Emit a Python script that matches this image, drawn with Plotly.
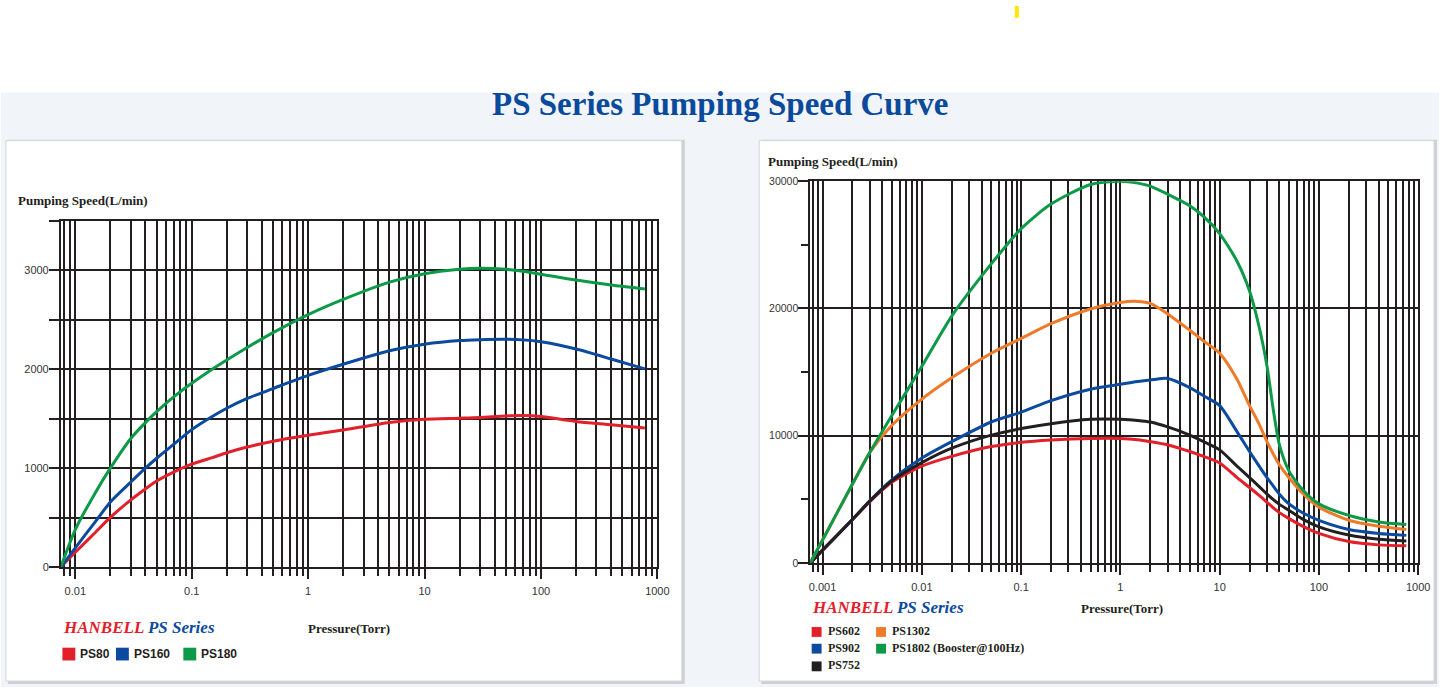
import plotly.graph_objects as go

W, H = 1451, 693

# ---- left chart data (PS80 / PS160 / PS180) ----
p_left = [0.0075, 0.01, 0.015, 0.02, 0.03, 0.04, 0.05, 0.07, 0.1, 0.15, 0.2, 0.3, 0.5,
          1, 2, 5, 10, 20, 30, 50, 70, 100, 200, 400, 780]
ps80 = [0, 150, 355, 502, 680, 790, 870, 960, 1040, 1106, 1156, 1213, 1272,
        1332, 1385, 1462, 1495, 1505, 1512, 1528, 1533, 1522, 1472, 1439, 1405]
ps160 = [0, 195, 465, 658, 860, 1000, 1100, 1240, 1389, 1522, 1605, 1704, 1804,
         1937, 2050, 2186, 2252, 2289, 2298, 2302, 2296, 2276, 2203, 2103, 2003]
ps180 = [0, 380, 760, 1000, 1300, 1460, 1570, 1720, 1858, 2000, 2093, 2219, 2369,
         2551, 2705, 2880, 2965, 3010, 3020, 3010, 2990, 2960, 2900, 2850, 2810]

# ---- right chart data (PS602 / PS902 / PS752 / PS1302 / PS1802) ----
p_right = [0.00075, 0.001, 0.002, 0.003, 0.005, 0.01, 0.02, 0.05, 0.1, 0.2, 0.5, 1,
           1.5, 2, 3, 5, 7, 10, 15, 20, 25, 30, 35, 40, 50, 70, 100, 200, 400, 760]
ps602 = [0, 1000, 3400, 4820, 6350, 7600, 8370, 9142, 9477, 9658, 9786, 9786,
         9680, 9529, 9271, 8756, 8350, 7855, 6696, 5923, 5300, 4764, 4300, 3950,
         3477, 2850, 2318, 1674, 1416, 1339]
ps902 = [0, 1000, 3420, 4900, 6550, 8241, 9529, 11074, 11846, 12748, 13649, 14036,
         14250, 14370, 14499, 13778, 13100, 12362, 10301, 8756, 7600, 6696, 6000, 5400,
         4636, 3900, 3348, 2627, 2318, 2163]
ps752 = [0, 1000, 3410, 4860, 6450, 7880, 9014, 10044, 10559, 10945, 11280, 11280,
         11200, 11074, 10688, 10044, 9500, 8885, 7597, 6696, 6000, 5408, 4950, 4600,
         4120, 3400, 2833, 2189, 1854, 1725]
ps1302 = [0, 1800, 6200, 8700, 10816, 12877, 14550, 16482, 17641, 18800, 19959, 20474,
          20551, 20396, 19572, 18285, 17400, 16482, 14422, 12362, 10900, 9529, 8500,
          7700, 6696, 5400, 4378, 3348, 2884, 2627]
ps1802 = [0, 1800, 6200, 8700, 11600, 15450, 19400, 23500, 26268, 28200, 29745, 30000,
          29850, 29614, 28970, 28071, 27170, 25882, 23693, 21375, 18542, 15452, 11846,
          9271, 7211, 5666, 4636, 3734, 3219, 3013]

left_names = ["PS80", "PS160", "PS180"]
left_colors = ["#e2202a", "#0b4a9e", "#0c9a48"]
right_names = ["PS602", "PS902", "PS752", "PS1302", "PS1802 (Booster@100Hz)"]
right_colors = ["#e2202a", "#0b4a9e", "#231f20", "#ef7b2a", "#0c9a48"]

decades_left = [0.01, 0.1, 1, 10, 100, 1000]
decades_right = [0.001, 0.01, 0.1, 1, 10, 100, 1000]
dec_labels_left = ["0.01", "0.1", "1", "10", "100", "1000"]
dec_labels_right = ["0.001", "0.01", "0.1", "1", "10", "100", "1000"]
yt_left = [0, 500, 1000, 1500, 2000, 2500, 3000, 3500]
yt_left_text = ["0", "", "1000", "", "2000", "", "3000", ""]
yt_right = [0, 10000, 20000, 30000]
yt_right_minor = [5000, 15000, 25000]


def px(x):
    return x / W


def py(y):
    return 1 - y / H


def minor_logs(lo, hi):
    vals = []
    d = lo
    while d < hi:
        for k in range(2, 10):
            vals.append(round(k * d, 6))
        d *= 10
    return vals


INK = "#231f20"
fig = go.Figure()

for name, col, ys in zip(left_names, left_colors, [ps80, ps160, ps180]):
    fig.add_trace(go.Scatter(x=p_left, y=ys, name=name, mode="lines",
                             line=dict(color=col, width=3, shape="spline", smoothing=0.7),
                             xaxis="x", yaxis="y", showlegend=False))

for name, col, ys in zip(right_names, right_colors, [ps602, ps902, ps752, ps1302, ps1802]):
    fig.add_trace(go.Scatter(x=p_right, y=ys, name=name, mode="lines",
                             line=dict(color=col, width=3, shape="spline", smoothing=0.7),
                             xaxis="x2", yaxis="y2", showlegend=False))

tickfont = dict(family="Liberation Sans, Arial", size=11, color="#333")
common_x = dict(type="log", ticks="outside", ticklen=10, tickwidth=1.6, tickcolor=INK,
                showgrid=True, gridcolor=INK, gridwidth=1.6, showline=True, linecolor=INK,
                linewidth=1.6, mirror=True, zeroline=False, tickfont=tickfont,
                tickmode="array", ticklabelstandoff=3)
common_y = dict(ticks="outside", ticklen=10, tickwidth=1.6, tickcolor=INK,
                showline=True, linecolor=INK, linewidth=1.6, mirror=True,
                zeroline=False, tickfont=tickfont, tickmode="array", ticklabelstandoff=-2)

fig.update_layout(
    autosize=True, margin=dict(l=0, r=0, t=0, b=0),
    paper_bgcolor="white", plot_bgcolor="rgba(0,0,0,0)",
    xaxis=dict(common_x, domain=[px(60.3), px(662.3)], anchor="y",
               range=[-2.125, 3], tickvals=decades_left, ticktext=dec_labels_left,
               minor=dict(tickvals=minor_logs(0.001, 1000), ticks="outside",
                          ticklen=7, tickwidth=1.6, tickcolor=INK, showgrid=True,
                          gridcolor=INK, gridwidth=1.6)),
    yaxis=dict(common_y, domain=[py(571), py(218.5)], anchor="x", range=[0, 3500],
               tickvals=yt_left, ticktext=yt_left_text, showgrid=True,
               gridcolor=INK, gridwidth=1.6),
    xaxis2=dict(common_x, domain=[px(816.5), px(1430)], anchor="y2",
                range=[-3.125, 3], tickvals=decades_right, ticktext=dec_labels_right,
                minor=dict(tickvals=minor_logs(0.0001, 1000), ticks="outside",
                           ticklen=7, tickwidth=1.6, tickcolor=INK, showgrid=True,
                           gridcolor=INK, gridwidth=1.6)),
    yaxis2=dict(common_y, domain=[py(566.7), py(178.3)], anchor="x2", range=[0, 30000],
                tickvals=yt_right, ticktext=[str(v) for v in yt_right], showgrid=True,
                gridcolor=INK, gridwidth=1.6, tickfont=dict(tickfont, size=10.5),
                minor=dict(tickvals=yt_right_minor, ticks="outside", ticklen=7,
                           tickwidth=1.6, tickcolor=INK, showgrid=False)),
)

shapes = []
# background band and panels
shapes.append(dict(type="rect", xref="paper", yref="paper", x0=0, x1=1, y0=0, y1=py(88),
                   fillcolor="#f1f4f8", line_width=0, layer="below"))
for x0, x1, y0, y1 in [(5, 687, 137, 687), (765, 1446, 137, 687)]:
    shapes.append(dict(type="rect", xref="paper", yref="paper", x0=px(x0 + 2), x1=px(x1 + 3),
                       y0=py(y1 + 3), y1=py(y0 - 1), fillcolor="#cfd1d4", line_width=0,
                       layer="below"))
    shapes.append(dict(type="rect", xref="paper", yref="paper", x0=px(x0), x1=px(x1),
                       y0=py(y1), y1=py(y0), fillcolor="white",
                       line=dict(color="#d4d6d8", width=1), layer="below"))
# yellow mark at top
shapes.append(dict(type="rect", xref="paper", yref="paper", x0=px(1023), x1=px(1027),
                   y0=py(12), y1=py(0), fillcolor="#ffe600", line_width=0))

ann = []
ann.append(dict(text="<b>PS Series Pumping Speed Curve</b>", x=px(726), y=py(100),
                xref="paper", yref="paper", showarrow=False, xanchor="center", yanchor="middle",
                font=dict(family="Liberation Serif, Times New Roman", size=33, color="#0a4a9c")))

serif_b = dict(family="Liberation Serif, Times New Roman", size=13, color=INK)
for x, y in [(15, 198), (772, 158)]:
    ann.append(dict(text="<b>Pumping Speed(L/min)</b>", x=px(x), y=py(y), xref="paper",
                    yref="paper", showarrow=False, xanchor="left", yanchor="middle",
                    font=serif_b))
for x, y in [(351, 633), (1131, 613)]:
    ann.append(dict(text="<b>Pressure(Torr)</b>", x=px(x), y=py(y), xref="paper",
                    yref="paper", showarrow=False, xanchor="center", yanchor="middle",
                    font=dict(serif_b, size=13)))
brand = ("<b><i><span style='color:#e2202a'>HANBELL</span> "
         "<span style='color:#0b4a9e'>PS Series</span></i></b>")
for x, y in [(61, 632), (816, 612)]:
    ann.append(dict(text=brand, x=px(x), y=py(y), xref="paper", yref="paper",
                    showarrow=False, xanchor="left", yanchor="middle",
                    font=dict(family="Liberation Serif, Times New Roman", size=17)))

# left legend: one row
leg_left_x = [62, 116, 184]
for name, col, x in zip(left_names, left_colors, leg_left_x):
    shapes.append(dict(type="rect", xref="paper", yref="paper", x0=px(x), x1=px(x + 13),
                       y0=py(666), y1=py(653), fillcolor=col, line_width=0))
    ann.append(dict(text="<b>%s</b>" % name, x=px(x + 16), y=py(659), xref="paper",
                    yref="paper", showarrow=False, xanchor="left", yanchor="middle",
                    font=dict(family="Liberation Sans, Arial", size=12, color=INK)))

# right legend: two columns
leg_right_pos = [(818, 637), (818, 654), (818, 672), (883, 637), (883, 654)]
for name, col, (x, y) in zip(right_names, right_colors, leg_right_pos):
    shapes.append(dict(type="rect", xref="paper", yref="paper", x0=px(x), x1=px(x + 10),
                       y0=py(y + 5), y1=py(y - 5), fillcolor=col, line_width=0))
    ann.append(dict(text="<b>%s</b>" % name, x=px(x + 14), y=py(y - 1), xref="paper",
                    yref="paper", showarrow=False, xanchor="left", yanchor="middle",
                    font=dict(family="Liberation Serif, Times New Roman", size=12, color=INK)))

fig.update_layout(shapes=shapes, annotations=ann)
# let the figure fill the whole window: no page margin, no scrollbars
fit = ("document.documentElement.style.cssText='height:100%;margin:0;overflow:hidden';"
       "document.body.style.cssText='height:100%;margin:0;overflow:hidden';"
       "var gd=document.getElementById('{plot_id}');"
       "gd.style.width='100vw';gd.style.height='100vh';"
       "Plotly.Plots.resize(gd);")
fig.write_html("out.html", config={"displayModeBar": False, "responsive": True},
               default_width="100%", default_height="100%", post_script=fit)
